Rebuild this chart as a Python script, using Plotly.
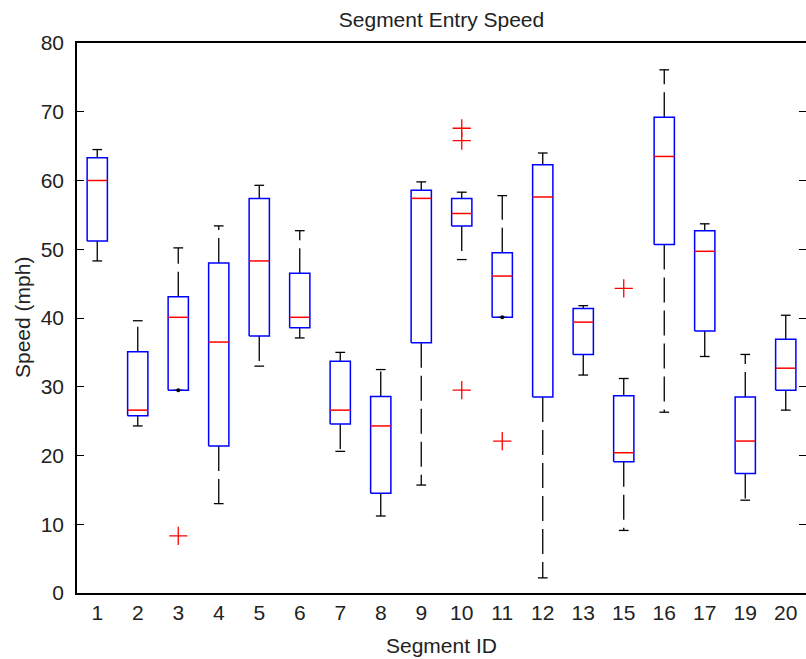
import plotly.graph_objects as go

categories = ["1", "2", "3", "4", "5", "6", "7", "8", "9", "10", "11", "12", "13", "15", "16", "17", "19", "20"]
upper_whisker = [64.5, 39.6, 50.2, 53.4, 59.3, 52.7, 35.0, 32.5, 59.8, 58.3, 57.8, 64.0, 41.8, 31.2, 76.1, 53.7, 34.7, 40.4]
q3 = [63.3, 35.1, 43.1, 48.0, 57.4, 46.5, 33.7, 28.6, 58.6, 57.4, 49.5, 62.3, 41.4, 28.7, 69.2, 52.7, 28.5, 36.9]
median = [60.0, 26.6, 40.1, 36.5, 48.3, 40.1, 26.6, 24.3, 57.4, 55.2, 46.1, 57.6, 39.4, 20.4, 63.5, 49.7, 22.1, 32.7]
q1 = [51.2, 25.8, 29.5, 21.4, 37.4, 38.6, 24.6, 14.5, 36.4, 53.4, 40.1, 28.5, 34.7, 19.1, 50.7, 38.1, 17.4, 29.5]
lower_whisker = [48.3, 24.3, 29.5, 13.0, 33.0, 37.1, 20.6, 11.2, 15.7, 48.5, 40.1, 2.2, 31.7, 9.1, 26.3, 34.4, 13.5, 26.6]
outlier_segments = ["3", "10", "10", "10", "11", "15"]
outlier_values = [8.3, 67.6, 65.8, 29.5, 22.1, 44.3]

y_ticks = [0, 10, 20, 30, 40, 50, 60, 70, 80]

BOX_HALF = 0.25
CAP_HALF = 0.12
FONT = "Liberation Sans, Arial, Helvetica, sans-serif"
FS = 21
TXT = "#222222"

pos = list(range(1, len(categories) + 1))

bx, by = [], []
mx, my = [], []
wx, wy = [], []
cx, cy = [], []
dx, dy = [], []
for i, p in enumerate(pos):
    l, r = p - BOX_HALF, p + BOX_HALF
    bx += [l, r, r, l, l, None]
    by += [q1[i], q1[i], q3[i], q3[i], q1[i], None]
    mx += [l, r, None]
    my += [median[i], median[i], None]
    if upper_whisker[i] > q3[i]:
        wx += [p, p, None]
        wy += [q3[i], upper_whisker[i], None]
    if lower_whisker[i] < q1[i]:
        wx += [p, p, None]
        wy += [q1[i], lower_whisker[i], None]
    else:
        dx.append(p)
        dy.append(lower_whisker[i])
    cx += [p - CAP_HALF, p + CAP_HALF, None, p - CAP_HALF, p + CAP_HALF, None]
    cy += [upper_whisker[i], upper_whisker[i], None, lower_whisker[i], lower_whisker[i], None]

ox = [categories.index(s) + 1 for s in outlier_segments]

fig = go.Figure()
fig.add_trace(go.Scatter(x=wx, y=wy, mode="lines", line=dict(color="black", width=1.3, dash="25px,8px"),
                         hoverinfo="skip", showlegend=False))
fig.add_trace(go.Scatter(x=cx, y=cy, mode="lines", line=dict(color="black", width=1.3),
                         hoverinfo="skip", showlegend=False))
fig.add_trace(go.Scatter(x=bx, y=by, mode="lines", line=dict(color="#0000ff", width=1.5),
                         hoverinfo="skip", showlegend=False))
fig.add_trace(go.Scatter(x=mx, y=my, mode="lines", line=dict(color="#ff0000", width=1.5),
                         hoverinfo="skip", showlegend=False))
fig.add_trace(go.Scatter(x=dx, y=dy, mode="markers", marker=dict(color="black", size=4),
                         hoverinfo="skip", showlegend=False))
fig.add_trace(go.Scatter(x=ox, y=outlier_values, mode="markers",
                         marker=dict(symbol="cross-thin", size=13, line=dict(color="#ff0000", width=1.3)),
                         showlegend=False))
# invisible trace on right axis for mirrored ticks
fig.add_trace(go.Scatter(x=[pos[0]], y=[0], yaxis="y2", mode="markers", marker=dict(opacity=0),
                         hoverinfo="skip", showlegend=False))

fig.update_layout(
    width=806, height=659,
    margin=dict(l=77, r=0, t=43, b=66, autoexpand=False),
    paper_bgcolor="white", plot_bgcolor="white",
    font=dict(family=FONT, size=FS, color=TXT),
    title=dict(text="Segment Entry Speed", x=0.5, xref="paper",
               y=1 - 20 / 659, yref="container", yanchor="middle", xanchor="center",
               font=dict(size=FS, family=FONT, color=TXT)),
    xaxis=dict(range=[0.5, 18.5], tickmode="array", tickvals=pos, ticktext=categories,
               showgrid=False, zeroline=False, showline=True, linecolor="black", linewidth=1.5,
               mirror=True, ticks="", ticklabelstandoff=0, automargin=False,
               tickfont=dict(size=FS, family=FONT, color=TXT)),
    yaxis=dict(range=[0, 80], tickmode="array", tickvals=y_ticks,
               showgrid=False, zeroline=False, showline=True, linecolor="black", linewidth=1.5,
               ticks="inside", ticklen=7, tickcolor="black", tickwidth=1, ticklabelstandoff=7,
               automargin=False, tickfont=dict(size=FS, family=FONT, color=TXT)),
    yaxis2=dict(range=[0, 80], overlaying="y", side="right", tickmode="array", tickvals=y_ticks,
                showgrid=False, zeroline=False, showline=False, showticklabels=False,
                ticks="inside", ticklen=7, tickcolor="black", tickwidth=1, automargin=False),
    annotations=[
        dict(text="Segment ID", xref="paper", yref="paper", x=0.5, y=(593 - 645) / 550,
             xanchor="center", yanchor="middle", showarrow=False,
             font=dict(size=FS, family=FONT, color=TXT)),
        dict(text="Speed (mph)", xref="paper", yref="paper", x=(22 - 77) / 729, y=0.5,
             xanchor="center", yanchor="middle", textangle=-90, showarrow=False,
             font=dict(size=FS, family=FONT, color=TXT)),
    ],
)

fig.write_html(
    "out.html",
    config={"displayModeBar": False},
    post_script="document.body.style.margin='0';document.body.style.overflow='hidden';",
)
